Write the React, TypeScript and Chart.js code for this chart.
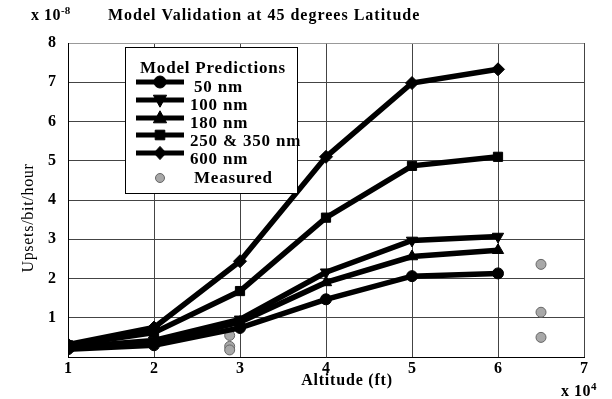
import React, { useEffect, useRef } from 'react';
import { Chart, registerables } from 'chart.js';
Chart.register(...registerables);

const altitudes = [1, 2, 3, 4, 5, 6];
const nm50 = [0.2, 0.3, 0.74, 1.47, 2.06, 2.13];
const nm100 = [0.25, 0.42, 0.96, 2.16, 2.97, 3.07];
const nm180 = [0.22, 0.36, 0.89, 1.9, 2.56, 2.72];
const nm250 = [0.3, 0.62, 1.68, 3.55, 4.87, 5.1];
const nm600 = [0.32, 0.75, 2.44, 5.1, 6.98, 7.33];
const measuredX = [2.88, 2.88, 2.88, 6.5, 6.5, 6.5];
const measuredY = [0.55, 0.27, 0.18, 2.36, 1.14, 0.5];
const seriesLabels = ['50 nm', '100 nm', '180 nm', '250 & 350 nm', '600 nm', 'Measured'];
const titleText = 'Model Validation at 45 degrees Latitude';
const xTitle = 'Altitude (ft)';
const yTitle = 'Upsets/bit/hour';

const SERIF = '"Liberation Serif", "Times New Roman", serif';

const pts = (ys: number[], xs: number[]) => ys.map((y, i) => ({ x: xs[i], y }));

const markerStyles: any[] = ['circle', 'triangle', 'triangle', 'rect', 'rectRot'];
const markerRot = [0, 180, 0, 0, 0];
const markerRadius = [5.5, 6.5, 6.5, 6.5, 6.5];

function drawExp(ctx: any, base: string, exp: string, x: number, y: number) {
  ctx.font = `bold 16px ${SERIF}`;
  ctx.letterSpacing = '0.5px';
  ctx.textAlign = 'left';
  ctx.fillText(base, x, y);
  const w = ctx.measureText(base).width;
  ctx.font = `bold 11px ${SERIF}`;
  ctx.letterSpacing = '0px';
  ctx.fillText(exp, x + w, y - 5);
}

const textPlugin = {
  id: 'texts',
  afterDraw(chart: any) {
    const ctx = chart.ctx;
    ctx.save();
    ctx.fillStyle = '#000';
    ctx.textBaseline = 'middle';
    drawExp(ctx, 'x 10', '-8', 31, 16);
    ctx.font = `bold 16px ${SERIF}`;
    ctx.letterSpacing = '1px';
    ctx.textAlign = 'left';
    ctx.fillText(titleText, 108, 16);
    drawExp(ctx, 'x 10', '4', 561, 392);
    ctx.font = `bold 16px ${SERIF}`;
    ctx.letterSpacing = '0.8px';
    ctx.textAlign = 'center';
    ctx.fillText(xTitle, 347, 381);
    ctx.save();
    ctx.translate(29, 218);
    ctx.rotate(-Math.PI / 2);
    ctx.font = `16px ${SERIF}`;
    ctx.letterSpacing = '0.7px';
    ctx.fillText(yTitle, 0, 0);
    ctx.restore();
    ctx.restore();
  },
};

function drawMarker(ctx: any, style: string, x: number, y: number, r: number, rot: number, fill: string, stroke: string, bw: number) {
  ctx.save();
  ctx.fillStyle = fill;
  ctx.strokeStyle = stroke;
  ctx.lineWidth = bw;
  ctx.translate(x, y);
  ctx.rotate((rot * Math.PI) / 180);
  ctx.beginPath();
  if (style === 'circle') {
    ctx.arc(0, 0, r, 0, Math.PI * 2);
  } else if (style === 'triangle') {
    ctx.moveTo(0, -r * 1.2);
    ctx.lineTo(r * 1.1, r * 0.8);
    ctx.lineTo(-r * 1.1, r * 0.8);
    ctx.closePath();
  } else if (style === 'rect') {
    ctx.rect(-r * 0.8, -r * 0.8, r * 1.6, r * 1.6);
  } else if (style === 'rectRot') {
    ctx.moveTo(0, -r * 1.1);
    ctx.lineTo(r * 1.0, 0);
    ctx.lineTo(0, r * 1.1);
    ctx.lineTo(-r * 1.0, 0);
    ctx.closePath();
  }
  ctx.fill();
  ctx.stroke();
  ctx.restore();
}

const legendPlugin = {
  id: 'customLegend',
  afterDatasetsDraw(chart: any) {
    const ctx = chart.ctx;
    ctx.save();
    const bx = 125, by = 47, bw = 172, bh = 146;
    ctx.fillStyle = '#fff';
    ctx.fillRect(bx, by, bw, bh);
    ctx.strokeStyle = '#000';
    ctx.lineWidth = 1;
    ctx.strokeRect(bx + 0.5, by + 0.5, bw, bh);
    ctx.fillStyle = '#000';
    ctx.textBaseline = 'middle';
    ctx.textAlign = 'left';
    ctx.font = `bold 17px ${SERIF}`;
    ctx.letterSpacing = '0.8px';
    ctx.fillText('Model Predictions', 140, 69);
    const rowsLine = [82, 100, 118, 135, 153];
    const rowsText = [88, 106, 124, 142, 160];
    const textX = [194, 190, 190, 190, 190];
    for (let i = 0; i < 5; i++) {
      const y = rowsLine[i];
      ctx.strokeStyle = '#000';
      ctx.lineWidth = 5;
      ctx.beginPath();
      ctx.moveTo(136, y);
      ctx.lineTo(184, y);
      ctx.stroke();
      drawMarker(ctx, markerStyles[i], 160, y, 6, markerRot[i], '#000', '#000', 1);
      ctx.fillStyle = '#000';
      ctx.fillText(seriesLabels[i], textX[i], rowsText[i]);
    }
    drawMarker(ctx, 'circle', 160, 178, 4.5, 0, '#a8a8a8', '#666', 1);
    ctx.fillStyle = '#000';
    ctx.fillText(seriesLabels[5], 194, 179);
    ctx.restore();
  },
};

export default function App() {
  const ref = useRef<HTMLCanvasElement>(null);
  useEffect(() => {
    document.body.style.margin = '0';
    const series = [nm50, nm100, nm180, nm250, nm600];
    const datasets: any[] = series.map((s, i) => ({
      label: seriesLabels[i],
      data: pts(s, altitudes),
      borderColor: '#000',
      backgroundColor: '#000',
      borderWidth: 5.5,
      pointStyle: markerStyles[i],
      pointRotation: markerRot[i],
      pointRadius: markerRadius[i],
      pointBorderWidth: 1,
      showLine: true,
      tension: 0,
    }));
    datasets.push({
      label: seriesLabels[5],
      data: pts(measuredY, measuredX),
      showLine: false,
      pointStyle: 'circle',
      pointRadius: 5,
      backgroundColor: '#a8a8a8',
      borderColor: '#666',
      pointBorderWidth: 1,
    });
    const chart = new Chart(ref.current!, {
      type: 'scatter',
      data: { datasets },
      options: {
        animation: false,
        responsive: false,
        layout: { padding: { top: 43, right: 28, left: 0, bottom: 0 } },
        plugins: { legend: { display: false }, tooltip: { enabled: false }, title: { display: false } },
        scales: {
          x: {
            type: 'linear',
            min: 1,
            max: 7,
            afterFit: (s: any) => { s.height = 42; },
            ticks: { stepSize: 1, color: '#000', font: { family: SERIF, size: 16, weight: 'bold' }, padding: 2 },
            grid: { color: '#444', lineWidth: 1, drawTicks: false },
            border: { color: '#000', width: 1 },
          },
          y: {
            type: 'linear',
            min: 0,
            max: 8,
            afterFit: (s: any) => { s.width = 68; },
            ticks: {
              stepSize: 1,
              color: '#000',
              font: { family: SERIF, size: 16, weight: 'bold' },
              padding: 12,
              callback: (v: any) => (v === 0 ? '' : String(v)),
            },
            grid: { color: (c: any) => (c.tick && c.tick.value === 8 ? '#999' : '#444'), lineWidth: 1, drawTicks: false },
            border: { color: '#000', width: 1 },
          },
        },
      } as any,
      plugins: [legendPlugin, textPlugin],
    });
    return () => chart.destroy();
  }, []);
  return (
    <div style={{ position: 'absolute', left: 0, top: 0, width: 612, height: 399, background: '#fff' }}>
      <canvas ref={ref} width={612} height={399} style={{ width: 612, height: 399 }} />
    </div>
  );
}
